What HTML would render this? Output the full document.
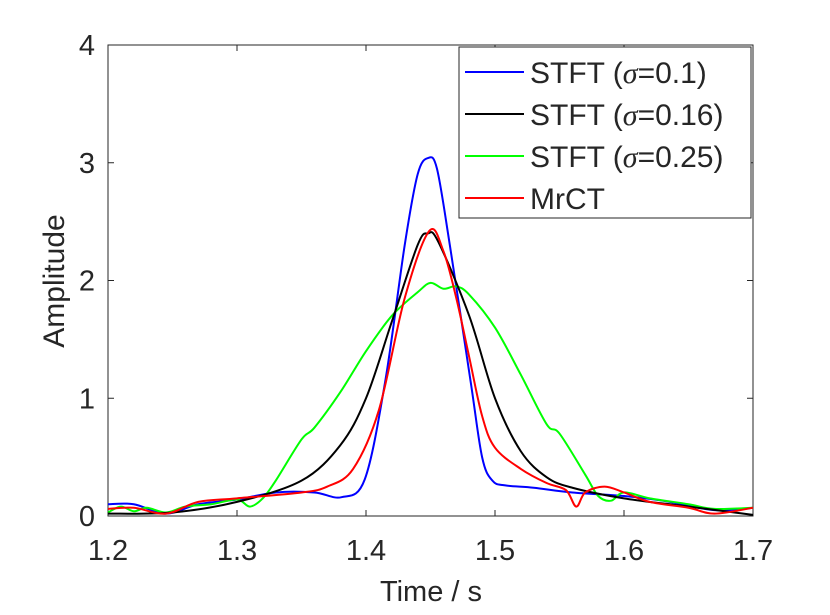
<!DOCTYPE html>
<html><head><meta charset="utf-8"><style>
body{margin:0;background:#fff}
svg text{font-family:"Liberation Sans",sans-serif;fill:#262626}
</style></head><body>
<svg id="c" width="830" height="610" xmlns="http://www.w3.org/2000/svg">
<rect width="830" height="610" fill="#fff"/>
<g id="plot"></g>
</svg>
<script>
const xTicks=[1.2,1.3,1.4,1.5,1.6,1.7];
const yTicks=[0,1,2,3,4];
const blueT=[1.2,1.22,1.245,1.27,1.3,1.33,1.36,1.381,1.399,1.415,1.43,1.44,1.448,1.455,1.465,1.481,1.49,1.498,1.508,1.53,1.56,1.6,1.63,1.67,1.7];
const blueV=[0.1,0.1,0.02,0.1,0.14,0.2,0.2,0.16,0.31,1.15,2.3,2.9,3.04,2.95,2.3,1.15,0.5,0.3,0.26,0.24,0.2,0.17,0.13,0.05,0.07];
const blackT=[1.2,1.25,1.3,1.35,1.38,1.4,1.42,1.44,1.448,1.456,1.48,1.5,1.52,1.54,1.56,1.6,1.65,1.7];
const blackV=[0.02,0.03,0.12,0.3,0.6,1.0,1.65,2.3,2.4,2.33,1.7,1.0,0.55,0.33,0.24,0.15,0.08,0.01];
const greenT=[1.2,1.21,1.22,1.23,1.245,1.26,1.28,1.3,1.31,1.32,1.33,1.35,1.36,1.38,1.4,1.42,1.44,1.45,1.46,1.47,1.48,1.5,1.52,1.54,1.55,1.57,1.58,1.59,1.6,1.62,1.65,1.67,1.7];
const greenV=[0.03,0.08,0.04,0.07,0.03,0.08,0.1,0.14,0.08,0.15,0.3,0.65,0.75,1.05,1.4,1.7,1.9,1.98,1.93,1.95,1.88,1.6,1.2,0.78,0.7,0.35,0.17,0.13,0.2,0.15,0.1,0.06,0.07];
const redT=[1.2,1.22,1.245,1.27,1.3,1.35,1.37,1.39,1.41,1.43,1.449,1.46,1.47,1.48,1.49,1.5,1.52,1.54,1.555,1.563,1.57,1.585,1.6,1.62,1.65,1.67,1.7];
const redV=[0.06,0.07,0.02,0.12,0.15,0.2,0.25,0.4,0.9,1.85,2.42,2.25,1.85,1.35,0.85,0.58,0.4,0.28,0.22,0.08,0.2,0.25,0.2,0.12,0.07,0.02,0.07];
const X0=108,X1=753,Y0=516,Y1=45;
const sx=t=>X0+(t-1.2)/0.5*(X1-X0);
const sy=v=>Y0-v/4*(Y0-Y1);
const NS="http://www.w3.org/2000/svg";
const g=document.getElementById('plot');
function el(n,a,p){const e=document.createElementNS(NS,n);for(const k in a)e.setAttribute(k,a[k]);(p||g).appendChild(e);return e;}
const ax=el('rect',{x:X0,y:Y1,width:X1-X0,height:Y0-Y1,fill:'none',stroke:'#262626','stroke-width':1});


xTicks.forEach(t=>{const x=sx(t);
 el('line',{x1:x,x2:x,y1:Y0,y2:Y0-6,stroke:'#262626'});el('line',{x1:x,x2:x,y1:Y1,y2:Y1+6,stroke:'#262626'});
 const tx=el('text',{x:x,y:560,'text-anchor':'middle','font-size':29});tx.textContent=t.toFixed(1);
 
 });
yTicks.forEach(v=>{const y=sy(v);
 el('line',{x1:X0,x2:X0+6,y1:y,y2:y,stroke:'#262626'});el('line',{x1:X1,x2:X1-6,y1:y,y2:y,stroke:'#262626'});
 const tx=el('text',{x:X0-13,y:y+10,'text-anchor':'end','font-size':29});tx.textContent=v;
 
 });
function smooth(T,V){const p=T.map((t,i)=>[sx(t),sy(V[i])]);let d='M'+p[0][0]+','+p[0][1];
 for(let i=0;i<p.length-1;i++){const a=p[Math.max(i-1,0)],b=p[i],c=p[i+1],e=p[Math.min(i+2,p.length-1)];
 d+=`C${b[0]+(c[0]-a[0])/6},${b[1]+(c[1]-a[1])/6} ${c[0]-(e[0]-b[0])/6},${c[1]-(e[1]-b[1])/6} ${c[0]},${c[1]}`;}return d;}
const series=[[blueT,blueV,'#0000ff','series-stft-0.1'],[greenT,greenV,'#00ff00','series-stft-0.25'],[blackT,blackV,'#000000','series-stft-0.16'],[redT,redV,'#ff0000','series-mrct']];
series.forEach(s=>{const p=el('path',{d:smooth(s[0],s[1]),fill:'none',stroke:s[2],'stroke-width':2});
 
 });
const lg=el('g',{});


el('rect',{x:459,y:47,width:292,height:171,fill:'#fff',stroke:'#262626'},lg);
const labels=[['STFT (','σ','=0.1)','#0000ff'],['STFT (','σ','=0.16)','#000000'],['STFT (','σ','=0.25)','#00ff00'],['MrCT','','','#ff0000']];
labels.forEach((L,i)=>{const y=72+i*42;
 el('line',{x1:465,x2:524,y1:y,y2:y,stroke:L[3],'stroke-width':2},lg);
 const t=el('text',{x:530,y:y+11,'font-size':30,fill:'#000'},lg);
 
 
 t.appendChild(document.createTextNode(L[0]));
 if(L[1]){const s=el('tspan',{'font-style':'italic','font-family':'Liberation Serif, serif'},t);s.textContent=L[1];}
 t.appendChild(document.createTextNode(L[2]));});
const xt=el('text',{x:431,y:601,'text-anchor':'middle','font-size':29,'xml:space':'preserve'});xt.textContent='Time  / s';


const yt=el('text',{x:0,y:0,'text-anchor':'middle','font-size':30,transform:'translate(64,281) rotate(-90)'});yt.textContent='Amplitude';


</script>
</body></html>
